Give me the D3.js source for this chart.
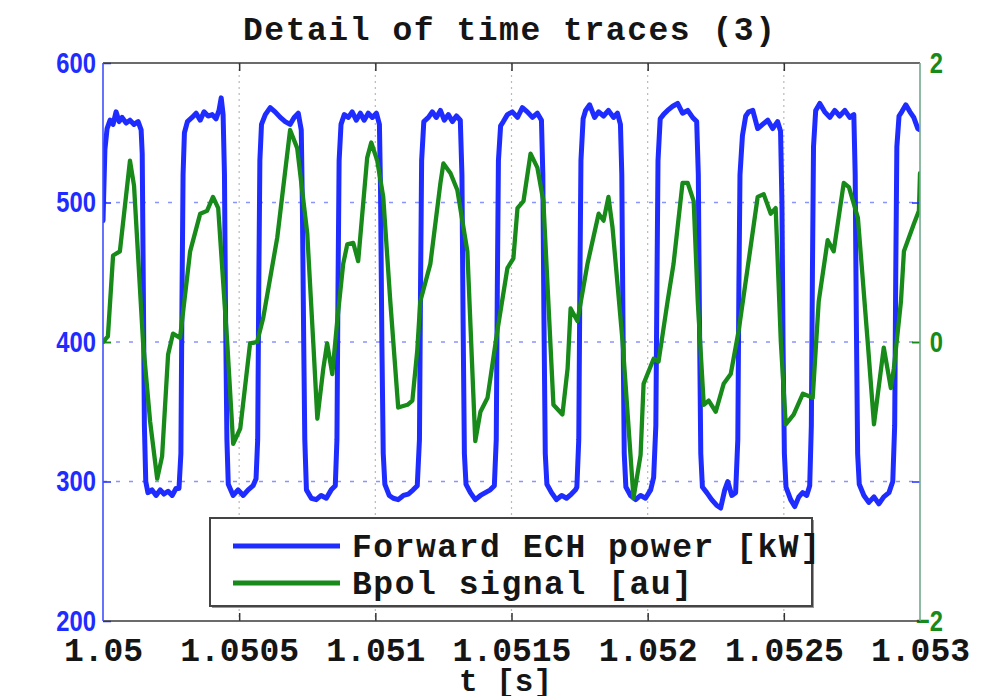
<!DOCTYPE html>
<html>
<head>
<meta charset="utf-8">
<script src="https://cdn.jsdelivr.net/npm/d3@7"></script>
<style>
  html, body { margin: 0; padding: 0; background: #fff; }
  svg { display: block; }
</style>
</head>
<body>
<svg id="chart" width="996" height="696"></svg>
<script>
// ---- data -------------------------------------------------------------
const T0 = 1.05; // s, start of the window; trace times are in µs after T0
const xTickValues = [1.05, 1.0505, 1.051, 1.0515, 1.052, 1.0525, 1.053];
const xTickLabels = ["1.05", "1.0505", "1.051", "1.0515", "1.052", "1.0525", "1.053"];
const powerTicks = [200, 300, 400, 500, 600];
const bpolTicks = [-2, 0, 2];
const seriesNames = ["Forward ECH power [kW]", "Bpol signal [au]"];
const titleText = "Detail of time traces (3)";
const xLabelText = "t [s]";

// Forward ECH power: [µs after T0, kW]
const powerTrace = [
  [0,487],[7,538],[15,553],[26,559],[37,556],[48,565],[59,558],[70,561],[85,557],[99,559],[114,556],[129,558],
  [140,552],[144,535],[148,440],[152,340],[157,300],[165,292],
  [180,294],[195,290],[210,294],[224,291],[239,293],[254,290],[268,295],[279,295],
  [286,320],[290,430],[294,520],[299,550],[310,558],
  [327,561],[342,564],[357,559],[371,565],[386,562],[401,563],[415,560],[426,566],[434,575],[441,563],
  [446,520],[450,420],[455,330],[460,298],
  [478,290],[496,294],[515,290],[533,294],[551,297],[562,302],
  [568,330],[572,440],[576,530],[582,556],
  [596,563],[614,568],[632,565],[651,561],[669,558],[687,556],[702,561],[717,564],[728,552],
  [732,500],[737,400],[741,330],[747,294],
  [765,288],[783,287],[801,290],[820,288],[838,294],[853,297],
  [859,330],[863,440],[867,530],[874,556],
  [886,563],[901,561],[915,565],[930,559],[945,564],[959,559],[974,564],[989,561],[1004,564],[1015,556],
  [1019,510],[1024,400],[1029,320],[1035,298],
  [1051,290],[1066,288],[1084,287],[1103,290],[1121,291],[1139,294],[1154,297],
  [1162,330],[1166,440],[1170,530],[1178,558],
  [1195,561],[1209,565],[1224,561],[1239,566],[1253,559],[1268,563],[1283,558],[1298,562],[1312,559],
  [1318,520],[1322,420],[1327,320],[1333,298],
  [1349,292],[1367,287],[1386,290],[1404,292],[1422,294],[1437,297],
  [1444,330],[1448,440],[1452,530],[1460,555],
  [1470,558],[1485,563],[1503,565],[1522,561],[1540,568],[1558,565],[1577,561],[1595,564],[1610,559],
  [1615,520],[1619,420],[1624,320],[1630,298],
  [1647,292],[1665,287],[1684,290],[1702,288],[1720,291],[1735,294],[1740,296],
  [1747,330],[1751,440],[1755,530],[1763,560],
  [1772,566],[1787,570],[1805,561],[1820,565],[1838,562],[1856,566],[1875,561],[1889,564],[1900,556],
  [1905,520],[1909,420],[1914,320],[1920,296],
  [1937,290],[1956,287],[1974,290],[1992,288],[2011,294],[2022,303],
  [2030,340],[2034,440],[2038,530],[2046,560],
  [2058,563],[2073,566],[2092,569],[2110,571],[2128,564],[2147,566],[2165,561],[2180,558],
  [2186,520],[2190,420],[2195,320],[2201,296],
  [2217,292],[2235,287],[2253,283],[2268,281],[2283,294],[2294,300],[2309,290],[2323,292],
  [2331,330],[2335,440],[2339,520],[2348,548],[2360,562],
  [2371,565],[2386,566],[2404,553],[2422,556],[2441,559],[2459,553],[2477,558],[2488,551],
  [2493,500],[2497,400],[2502,320],[2508,296],
  [2525,287],[2540,282],[2555,289],[2569,292],[2584,290],[2595,297],
  [2601,340],[2605,450],[2609,540],[2617,566],
  [2632,571],[2650,565],[2669,561],[2687,566],[2705,562],[2724,566],[2742,561],[2757,563],
  [2762,520],[2766,420],[2771,320],[2777,298],
  [2794,290],[2812,285],[2831,289],[2849,284],[2867,289],[2886,292],[2900,300],
  [2907,340],[2911,450],[2915,540],[2923,562],
  [2933,565],[2948,570],[2963,565],[2977,561],[2992,553],[3000,552]
];

// Bpol signal: [µs after T0, au]
const bpolTrace = [
  [0,0.0],[18,0.04],[37,0.62],[62,0.65],[99,1.30],[114,1.12],[147,0.0],[173,-0.57],[199,-0.98],[217,-0.82],
  [239,-0.09],[257,0.06],[283,0.03],[320,0.65],[357,0.92],[382,0.94],[404,1.04],[423,0.96],[456,0.0],[478,-0.73],
  [504,-0.62],[540,-0.01],[566,0.0],[588,0.17],[640,0.75],[687,1.52],[713,1.39],[750,0.78],[772,0.0],[787,-0.55],
  [809,-0.19],[823,-0.01],[842,-0.23],[860,0.15],[882,0.56],[897,0.70],[919,0.71],[937,0.58],[970,1.32],[985,1.43],
  [1007,1.30],[1029,1.04],[1055,0.29],[1084,-0.47],[1118,-0.45],[1136,-0.42],[1154,-0.06],[1165,0.29],[1202,0.56],[1239,1.14],
  [1250,1.28],[1276,1.21],[1301,1.09],[1338,0.65],[1367,-0.71],[1386,-0.50],[1412,-0.40],[1448,0.08],[1485,0.53],[1507,0.60],
  [1522,0.96],[1544,1.01],[1570,1.35],[1595,1.25],[1617,1.01],[1654,-0.45],[1687,-0.52],[1706,-0.19],[1717,0.24],[1742,0.15],
  [1779,0.56],[1820,0.92],[1838,0.87],[1856,1.04],[1871,0.82],[1908,0.0],[1948,-1.12],[1974,-0.81],[1985,-0.30],[2022,-0.12],
  [2040,-0.14],[2073,0.29],[2095,0.56],[2128,1.14],[2147,1.14],[2169,1.01],[2184,0.29],[2206,-0.45],[2224,-0.42],[2250,-0.50],
  [2279,-0.30],[2305,-0.23],[2334,0.08],[2367,0.53],[2404,1.04],[2426,1.06],[2452,0.92],[2470,0.96],[2489,0.0],[2507,-0.59],
  [2536,-0.52],[2570,-0.37],[2606,-0.40],[2628,0.29],[2661,0.73],[2683,0.65],[2720,1.14],[2739,1.11],[2772,0.89],[2808,0.0],
  [2831,-0.59],[2867,-0.04],[2893,-0.33],[2904,-0.19],[2930,0.29],[2941,0.65],[2978,0.85],[2996,0.94],[3000,1.21]
];

// ---- layout & styles --------------------------------------------------
const M = { left: 103, right: 920, top: 63, bottom: 621 };
const BLUE = "#1e2cff";
const GREEN = "#178a1a";
const MONO = "'Liberation Mono', 'DejaVu Sans Mono', monospace";
const SANS = "'Liberation Sans', Arial, sans-serif";

const svg = d3.select("#chart");

const x = d3.scaleLinear().domain([1.05, 1.053]).range([M.left, M.right]);
const yP = d3.scaleLinear().domain([200, 600]).range([M.bottom, M.top]);
const yB = d3.scaleLinear().domain([-2, 2]).range([M.bottom, M.top]);
const tOf = d => T0 + d[0] * 1e-6;

// grid
svg.append("g").selectAll("line")
  .data(xTickValues.slice(1, -1)).join("line")
  .attr("x1", d => x(d)).attr("x2", d => x(d))
  .attr("y1", M.top).attr("y2", M.bottom)
  .attr("stroke", "#b9b9b9").attr("stroke-width", 1.2)
  .attr("stroke-dasharray", "2,4");
svg.append("g").selectAll("line")
  .data(powerTicks.slice(1, -1)).join("line")
  .attr("x1", M.left).attr("x2", M.right)
  .attr("y1", d => yP(d)).attr("y2", d => yP(d))
  .attr("stroke", "#8a94ff").attr("stroke-width", 1.6)
  .attr("stroke-dasharray", "4,9");

// traces
svg.append("clipPath").attr("id", "plotArea")
  .append("rect").attr("x", M.left).attr("y", M.top)
  .attr("width", M.right - M.left).attr("height", M.bottom - M.top);

const powerLine = d3.line().x(d => x(tOf(d))).y(d => yP(d[1]));
const bpolLine = d3.line().x(d => x(tOf(d))).y(d => yB(d[1]));

const traces = svg.append("g").attr("clip-path", "url(#plotArea)");
traces.append("path").datum(powerTrace).attr("d", powerLine)
  .attr("fill", "none").attr("stroke", BLUE).attr("stroke-width", 5)
  .attr("stroke-linejoin", "round").attr("stroke-linecap", "round");
traces.append("path").datum(bpolTrace).attr("d", bpolLine)
  .attr("fill", "none").attr("stroke", GREEN).attr("stroke-width", 4.3)
  .attr("stroke-linejoin", "round").attr("stroke-linecap", "round");

// axes
function styleTicks(g, color) {
  g.select(".domain").remove();
  g.selectAll(".tick line").attr("stroke", color).attr("stroke-width", 1.5);
}
function squeezeLabels(g, sx) {
  g.selectAll(".tick text").each(function () {
    const t = d3.select(this);
    const xx = +t.attr("x") || 0;
    t.attr("x", 0).attr("transform", `translate(${xx},0) scale(${sx},1)`);
  });
}

// bottom (labelled) and top (ticks only)
const gx = svg.append("g").attr("transform", `translate(0,${M.bottom})`)
  .call(d3.axisBottom(x).tickValues(xTickValues).tickFormat((d, i) => xTickLabels[i])
    .tickSizeInner(-8).tickSizeOuter(0).tickPadding(17));
styleTicks(gx, "#333");
gx.selectAll(".tick text").attr("fill", "#151515")
  .style("font-family", MONO).style("font-weight", "bold").style("font-size", "33px");
gx.selectAll(".tick").filter((d, i) => i === 0 || i === xTickValues.length - 1).select("line").remove();

const gxTop = svg.append("g").attr("transform", `translate(0,${M.top})`)
  .call(d3.axisTop(x).tickValues(xTickValues.slice(1, -1)).tickFormat("")
    .tickSizeInner(-8).tickSizeOuter(0));
styleTicks(gxTop, "#333");

// left power axis (labelled) with mirrored ticks on the right
const gl = svg.append("g").attr("transform", `translate(${M.left},0)`)
  .call(d3.axisLeft(yP).tickValues(powerTicks).tickSizeInner(-8).tickSizeOuter(0).tickPadding(7));
styleTicks(gl, BLUE);
gl.selectAll(".tick text").attr("fill", BLUE)
  .style("font-family", SANS).style("font-weight", "bold").style("font-size", "29px");
squeezeLabels(gl, 0.82);

const glR = svg.append("g").attr("transform", `translate(${M.right},0)`)
  .call(d3.axisRight(yP).tickValues(powerTicks.slice(1, -1)).tickFormat("").tickSizeInner(-8).tickSizeOuter(0));
styleTicks(glR, BLUE);

// right Bpol axis (labelled) with mirrored ticks on the left
const gr = svg.append("g").attr("transform", `translate(${M.right},0)`)
  .call(d3.axisRight(yB).tickValues(bpolTicks).tickFormat(d3.format("d"))
    .tickSizeInner(-8).tickSizeOuter(0).tickPadding(23));
styleTicks(gr, GREEN);
gr.selectAll(".tick").filter(d => d !== 0).select("line").remove();
gr.attr("text-anchor", "end");
gr.selectAll(".tick text").attr("fill", GREEN)
  .style("font-family", SANS).style("font-weight", "bold").style("font-size", "29px");
squeezeLabels(gr, 0.82);

const grL = svg.append("g").attr("transform", `translate(${M.left},0)`)
  .call(d3.axisLeft(yB).tickValues([0]).tickFormat("").tickSizeInner(-8).tickSizeOuter(0));
styleTicks(grL, GREEN);

// frame
svg.append("line").attr("x1", M.left).attr("x2", M.right).attr("y1", M.top).attr("y2", M.top)
  .attr("stroke", "#3a3a3a").attr("stroke-width", 1.6);
svg.append("line").attr("x1", M.left).attr("x2", M.right).attr("y1", M.bottom).attr("y2", M.bottom)
  .attr("stroke", "#3a3a3a").attr("stroke-width", 1.6);
svg.append("line").attr("x1", M.left).attr("x2", M.left).attr("y1", M.top).attr("y2", M.bottom)
  .attr("stroke", "#4050ff").attr("stroke-width", 1.6);
svg.append("line").attr("x1", M.right).attr("x2", M.right).attr("y1", M.top).attr("y2", M.bottom)
  .attr("stroke", "#72a88c").attr("stroke-width", 1.6);

// title and axis label
svg.append("text").attr("x", 509).attr("y", 40).attr("text-anchor", "middle")
  .attr("textLength", 532).attr("lengthAdjust", "spacing")
  .attr("fill", "#151515").style("font-family", MONO).style("font-weight", "bold").style("font-size", "33px")
  .text(titleText);
svg.append("text").attr("x", (M.left + M.right) / 2 - 6).attr("y", 691).attr("text-anchor", "middle")
  .attr("fill", "#151515").style("font-family", MONO).style("font-weight", "bold").style("font-size", "31px")
  .text(xLabelText);

// legend
const legend = svg.append("g");
legend.append("rect").attr("x", 212).attr("y", 520).attr("width", 602).attr("height", 88)
  .attr("fill", "#9a9a9a");
legend.append("rect").attr("x", 210).attr("y", 518).attr("width", 602).attr("height", 88)
  .attr("fill", "#fff").attr("stroke", "#444").attr("stroke-width", 2);
const legendItems = [
  { name: seriesNames[0], color: BLUE, y: 546, len: 468 },
  { name: seriesNames[1], color: GREEN, y: 583, len: 340 }
];
legend.selectAll("line.key").data(legendItems).join("line").attr("class", "key")
  .attr("x1", 233).attr("x2", 340).attr("y1", d => d.y).attr("y2", d => d.y)
  .attr("stroke", d => d.color).attr("stroke-width", 5);
legend.selectAll("text").data(legendItems).join("text")
  .attr("x", 352).attr("y", d => d.y + 11)
  .attr("textLength", d => d.len).attr("lengthAdjust", "spacing")
  .attr("fill", "#151515").style("font-family", MONO).style("font-weight", "bold").style("font-size", "33px")
  .text(d => d.name);
</script>
</body>
</html>
